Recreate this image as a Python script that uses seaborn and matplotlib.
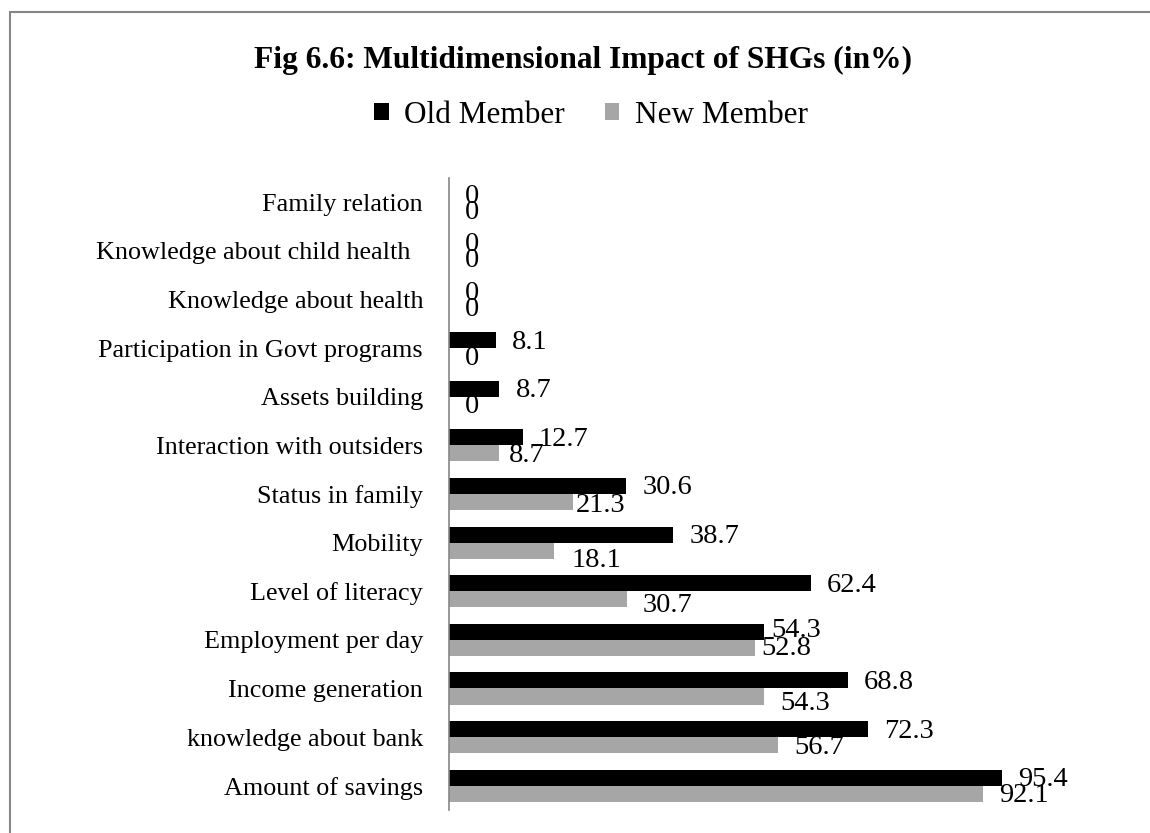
import matplotlib
matplotlib.use("Agg")
import matplotlib.pyplot as plt
import seaborn as sns
import pandas as pd
from matplotlib.patches import Rectangle, Patch

# ---- data ----
categories = ["Family relation", "Knowledge about child health  ", "Knowledge about health",
              "Participation in Govt programs", "Assets building", "Interaction with outsiders",
              "Status in family", "Mobility", "Level of literacy", "Employment per day",
              "Income generation", "knowledge about bank", "Amount of savings"]
old_member = [0, 0, 0, 8.1, 8.7, 12.7, 30.6, 38.7, 62.4, 54.3, 68.8, 72.3, 95.4]
new_member = [0, 0, 0, 0, 0, 8.7, 21.3, 18.1, 30.7, 52.8, 54.3, 56.7, 92.1]
series = ["Old Member", "New Member"]
colors = ["#000000", "#A6A6A6"]

df = pd.DataFrame({
    "Category": categories * 2,
    "Value": old_member + new_member,
    "Series": [series[0]] * len(categories) + [series[1]] * len(categories),
})

# label nudges in pixels (dx, dy down) for labels Excel moved
nudges = {(1, 5): (-7, 0), (1, 6): (-13, 1), (1, 7): (2, 8), (1, 8): (0, 4),
          (0, 9): (-9, -3), (1, 9): (-10, -1), (1, 10): (0, 5)}

sns.set_theme(style="white")
plt.rcParams["font.family"] = ["Liberation Serif", "DejaVu Serif"]
plt.rcParams["text.color"] = "black"

W, H = 1150, 833
fig = plt.figure(figsize=(W / 100, H / 100), dpi=100)
ax = fig.add_axes([449 / W, 23 / H, 580 / W, 632 / H])

sns.barplot(data=df, x="Value", y="Category", hue="Series", hue_order=series,
            palette=colors, width=0.66, orient="h", linewidth=0, ax=ax, legend=False)

ax.set_xlim(0, 100)
ax.set_ylim(len(categories) - 0.5, -0.5)
ax.set_xlabel("")
ax.set_ylabel("")
ax.set_xticks([])
for s in ["top", "right", "bottom"]:
    ax.spines[s].set_visible(False)
ax.spines["left"].set_color("#868686")
ax.spines["left"].set_linewidth(1.2)
ax.tick_params(axis="y", length=0, pad=18.7, labelsize=18.8, labelcolor="black")

# value labels
px = 72 / 100
for si, cont in enumerate(ax.containers):
    vals = old_member if si == 0 else new_member
    for ci, (bar, v) in enumerate(zip(cont, vals)):
        dx, dy = nudges.get((si, ci), (0, 0))
        yc = bar.get_y() + bar.get_height() / 2
        ax.annotate(f"{v:g}", xy=(v, yc), xytext=((16 + dx) * px, -(2 + dy) * px),
                    textcoords="offset points", ha="left", va="center",
                    fontsize=20.5, color="black", annotation_clip=False)

# title
fig.text(583 / W, 1 - 68 / H, "Fig 6.6: Multidimensional Impact of SHGs (in%)",
         ha="center", va="baseline", fontsize=22.6, fontweight="bold", color="black")

# legend
handles = [Patch(facecolor=c, edgecolor="none") for c in colors]
leg = fig.legend(handles, series, loc="center", bbox_to_anchor=(591 / W, 1 - 115.5 / H),
                 ncol=2, frameon=False, fontsize=22.5, handlelength=0.45, handleheight=0.45,
                 handletextpad=0.5, columnspacing=1.28, borderaxespad=0, borderpad=0)
for t in leg.get_texts():
    t.set_color("black")

# outer border
fig.patches.append(Rectangle((10 / W, -0.1), 1.2, (H - 12) / H + 0.1, transform=fig.transFigure,
                             fill=False, edgecolor="#868686", linewidth=1.5))

fig.savefig("out.png", dpi=100)
